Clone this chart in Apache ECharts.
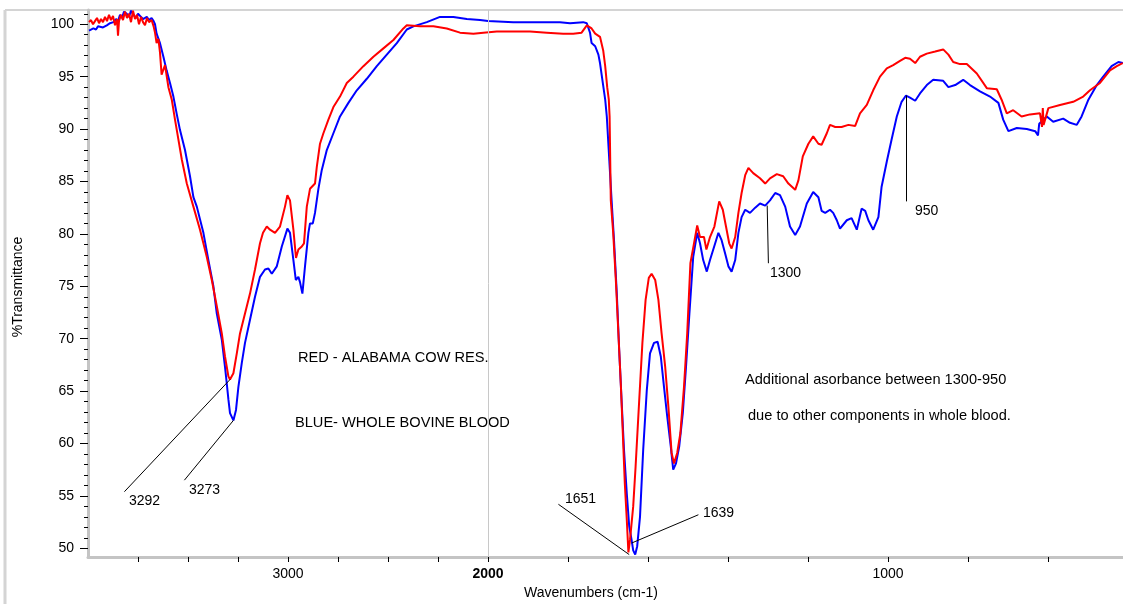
<!DOCTYPE html>
<html><head><meta charset="utf-8">
<script src="https://cdn.jsdelivr.net/npm/echarts@6/dist/echarts.min.js"></script>
<style>html,body{margin:0;padding:0;background:#fff}#c{width:1123px;height:604px}</style>
</head><body><div id="c"></div>
<script>
// ---- data (wavenumber cm-1, %Transmittance) ----
const blueWn = [3995,3985,3973,3960,3950,3940,3925,3906,3890,3873,3860,3850,3840,3830,3820,3806,3795,3785,3773,3760,3750,3740,3725,3706,3695,3682,3672,3665,3657,3640,3623,3607,3590,3573,3557,3540,3515,3490,3473,3456,3423,3398,3373,3356,3331,3315,3306,3298,3290,3273,3260,3248,3231,3215,3190,3165,3140,3115,3098,3081,3056,3031,3003,2990,2973,2961,2948,2940,2928,2915,2898,2890,2876,2865,2848,2831,2806,2773,2740,2698,2656,2606,2556,2506,2456,2406,2373,2306,2240,2173,2106,2040,2000,1937,1895,1853,1820,1795,1762,1753,1745,1741,1732,1724,1720,1713,1707,1703,1691,1685,1678,1672,1666,1660,1653,1647,1641,1637,1632,1627,1620,1612,1603,1595,1585,1576,1568,1560,1552,1543,1537,1530,1522,1513,1505,1497,1487,1477,1470,1462,1453,1445,1432,1424,1416,1407,1399,1391,1382,1374,1366,1357,1345,1332,1320,1307,1295,1282,1270,1257,1245,1232,1220,1203,1187,1174,1166,1157,1145,1137,1128,1120,1103,1091,1078,1066,1057,1049,1037,1024,1016,1003,991,978,966,955,945,932,920,903,887,862,849,832,812,795,770,745,724,712,699,678,653,632,625,622,620,603,587,562,545,528,516,499,478,462,441,424,413];
const blueT = [99.4,99.5,99.6,99.5,99.8,99.8,99.7,99.9,100.1,100.2,100.5,100.3,100.9,100.6,101.2,101.0,100.7,101.3,100.9,100.6,101.0,100.8,100.5,100.7,100.4,100.6,100.3,100.0,99.1,98.2,96.9,95.6,94.4,93.1,91.5,89.9,88.0,85.5,83.5,82.6,80.1,77.5,75.0,72.4,69.9,67.3,65.7,64.2,62.9,62.2,63.2,65.4,67.7,69.6,71.8,74.0,75.9,76.6,76.7,76.2,76.9,78.8,80.5,80.1,77.5,75.6,75.9,75.4,74.3,76.9,80.1,81.0,81.0,82.0,84.3,86.1,88.0,89.6,91.2,92.5,93.7,94.8,96.0,97.1,98.2,99.5,99.8,100.2,100.7,100.7,100.5,100.4,100.3,100.2,100.2,100.2,100.2,100.1,100.2,100.1,99.2,98.2,97.9,97.1,96.3,94.4,92.8,91.2,83.2,79.4,74.3,68.9,64.1,59.4,55.2,52.1,50.8,49.8,49.4,50.2,53.0,59.4,65.1,68.6,69.6,69.7,68.3,65.4,62.6,59.7,57.5,58.1,59.7,62.9,67.3,72.1,77.8,80.1,79.1,77.5,76.4,77.5,79.1,80.1,79.4,78.1,76.9,76.4,77.5,80.1,81.6,82.3,82.0,82.5,82.9,82.7,83.2,83.9,83.7,82.6,80.7,79.9,80.7,82.9,84.0,83.5,82.2,82.0,82.3,82.0,81.3,80.5,81.3,81.5,80.4,82.4,82.2,81.3,80.4,81.6,84.5,86.9,89.0,91.2,92.6,93.2,93.0,92.7,93.4,94.2,94.7,94.6,94.0,94.2,94.7,94.2,93.6,93.1,92.5,90.9,89.8,90.1,90.0,89.8,89.4,90.5,90.4,91.2,90.7,91.0,90.6,90.4,91.2,92.8,94.2,95.0,96.0,96.4,96.3];
const redWn = [3995,3985,3975,3965,3955,3945,3935,3925,3915,3905,3895,3885,3875,3865,3855,3850,3845,3835,3825,3815,3805,3795,3785,3775,3765,3755,3745,3735,3725,3715,3705,3695,3682,3672,3665,3657,3648,3640,3632,3615,3598,3581,3565,3556,3531,3506,3473,3440,3406,3381,3356,3331,3315,3298,3290,3273,3256,3240,3215,3190,3165,3140,3125,3106,3090,3065,3040,3015,3003,2990,2973,2960,2948,2931,2920,2906,2890,2881,2865,2856,2840,2823,2798,2773,2740,2706,2673,2623,2573,2523,2473,2423,2406,2340,2273,2206,2140,2073,2023,1978,1937,1895,1853,1812,1787,1766,1753,1741,1732,1720,1712,1707,1702,1698,1696,1693,1687,1680,1674,1668,1663,1658,1653,1649,1645,1637,1631,1622,1614,1606,1598,1591,1582,1574,1566,1557,1549,1541,1535,1527,1519,1510,1502,1494,1485,1477,1470,1460,1454,1445,1434,1422,1413,1405,1397,1391,1382,1374,1366,1357,1349,1337,1320,1307,1295,1278,1262,1249,1232,1224,1213,1199,1187,1174,1166,1153,1145,1132,1116,1099,1082,1070,1053,1037,1020,1003,987,970,957,945,932,920,903,882,862,849,837,820,803,778,753,728,716,703,687,666,645,620,615,613,611,599,570,537,512,495,470,445,428,413];
const redT = [100.2,100.4,100.0,100.3,100.6,100.1,100.5,100.2,100.7,100.3,100.9,100.4,100.8,99.9,100.5,98.9,100.3,100.9,100.4,101.2,100.6,101.0,100.2,101.3,100.5,100.9,100.0,100.7,100.2,99.9,100.6,100.2,100.4,99.8,99.2,98.2,98.6,97.3,95.2,96.1,94.0,92.8,90.9,89.9,87.1,84.8,82.6,80.4,77.8,75.6,73.1,70.5,68.3,66.4,66.1,66.7,68.6,70.5,72.4,74.3,76.6,79.1,80.1,80.7,80.4,80.1,80.7,82.6,83.7,83.2,80.4,77.7,78.5,78.8,79.1,82.6,84.3,84.3,84.8,86.4,88.6,89.6,90.9,92.1,93.1,94.4,95.0,96.0,96.9,97.7,98.5,99.6,99.9,99.8,99.8,99.6,99.2,99.1,99.2,99.3,99.3,99.3,99.2,99.1,99.1,99.2,99.9,99.6,99.1,98.8,97.5,96.0,94.0,92.8,91.2,83.2,80.1,75.3,70.5,65.7,61.0,56.2,52.7,49.6,50.8,54.0,57.8,64.1,69.6,73.7,75.8,76.2,75.6,73.7,70.5,67.3,63.5,59.1,58.1,59.1,61.0,65.4,70.5,77.2,79.1,80.8,79.7,79.7,78.5,79.7,80.7,83.1,82.3,80.7,79.1,78.6,79.7,82.0,83.9,85.6,86.3,85.8,85.3,84.8,85.3,85.7,85.5,84.8,84.2,85.1,87.4,88.6,89.3,88.6,88.5,89.6,90.4,90.2,90.2,90.4,90.3,91.5,92.3,93.7,95.0,95.8,96.1,96.5,96.8,96.7,96.3,96.9,97.2,97.4,97.6,97.1,96.4,96.2,96.2,95.3,93.9,93.8,92.8,91.5,91.8,91.2,91.4,91.5,90.2,92.0,90.4,92.0,92.3,92.6,93.1,93.7,94.4,95.6,96.0,96.3];

// ---- axes ----
const xTickWn = [3750,3500,3250,3000,2750,2500,2250,2000,1800,1600,1400,1200,1000,800,600];
const xLabelWn = [3000,2000,1000];
const yMajor = [50,55,60,65,70,75,80,85,90,95,100];
const yMinor = [50,51,52,53,54,55,56,57,58,59,60,61,62,63,64,65,66,67,68,69,70,71,72,73,74,75,76,77,78,79,80,81,82,83,84,85,86,87,88,89,90,91,92,93,94,95,96,97,98,99,100,101];

// ---- annotations: leader lines [wn1,T1,wn2,T2] and peak labels ----
const leaderLines = [
  [3818,55.4,3290,66.1],
  [3518,56.5,3273,62.2],
  [1824,54.2,1647,49.4],
  [1641,50.5,1474,53.2],
  [1302,82.7,1299,77.2],
  [955,93.2,955,83.1]
];
const peakLabels = [
  {t:'3292', x:129, y:501},
  {t:'3273', x:189, y:490},
  {t:'1651', x:565, y:499},
  {t:'1639', x:703, y:513},
  {t:'1300', x:770, y:273},
  {t:'950',  x:915, y:211}
];
const notes = [
  {t:'RED - ALABAMA COW RES.', x:298, y:358},
  {t:'BLUE- WHOLE BOVINE BLOOD', x:295, y:423},
  {t:'Additional asorbance between 1300-950', x:745, y:380},
  {t:'due to other components in whole blood.', x:748, y:416}
];

// split scale: 4000-2000 at 1x, below 2000 at 2x
function toPos(wn){ return wn >= 2000 ? 4000 - wn : 2000 + 2*(2000 - wn); }
function toWn(p){ return p <= 2000 ? 4000 - p : 2000 - (p - 2000)/2; }

const FONT = '"Liberation Sans", Arial, sans-serif';
const chart = echarts.init(document.getElementById('c'), null, {renderer:'canvas'});

const txt = (o, size) => ({
  type:'text', style:{text:o.t, x:o.x, y:o.y, fill:'#000', font:size + 'px ' + FONT, textVerticalAlign:'middle', textAlign:'left'}
});

const graphics = [
  {type:'line', shape:{x1:5, y1:10, x2:1123, y2:10}, style:{stroke:'#d4d4d4', lineWidth:2}},
  {type:'line', shape:{x1:5, y1:10, x2:5, y2:604}, style:{stroke:'#d4d4d4', lineWidth:3}},
  {type:'text', x:18, y:287, rotation:Math.PI/2, style:{text:'%Transmittance', x:0, y:0, fill:'#000', font:'14px ' + FONT, textAlign:'center', textVerticalAlign:'middle'}},
  {type:'text', style:{text:'Wavenumbers (cm-1)', x:591, y:593, fill:'#000', font:'14px ' + FONT, textAlign:'center', textVerticalAlign:'middle'}}
];
peakLabels.forEach(p => graphics.push(txt(p, 14)));
notes.forEach(n => graphics.push(txt(n, 14.6)));

chart.setOption({
  animation:false,
  backgroundColor:'#fff',
  grid:{left:88, right:0, top:10, bottom:47, containLabel:false},
  xAxis:{
    type:'value', min:0, max:5175,
    axisLine:{show:true, onZero:false, lineStyle:{color:'#c4c4c4', width:3}},
    axisTick:{show:true, inside:false, length:5, lineStyle:{color:'#000', width:1}, customValues: xTickWn.map(toPos)},
    axisLabel:{show:true, margin:10, color:'#000', fontFamily:FONT, fontSize:14,
      customValues: xLabelWn.map(toPos),
      formatter: v => { const w = Math.round(toWn(v)); return w === 2000 ? '{b|2000}' : String(w); },
      rich:{b:{fontWeight:'bold', fontFamily:FONT, fontSize:14, color:'#000'}}},
    splitLine:{show:false}
  },
  yAxis:[{
    type:'value', min:49.17, max:101.36, position:'left',
    axisLine:{show:true, onZero:false, lineStyle:{color:'#c4c4c4', width:3}},
    axisTick:{show:true, length:8, lineStyle:{color:'#000', width:1}, customValues:yMajor},
    axisLabel:{show:true, margin:14, color:'#000', fontFamily:FONT, fontSize:14, customValues:yMajor},
    splitLine:{show:false}
  },{
    type:'value', min:49.17, max:101.36, position:'left', offset:0,
    axisLine:{show:false},
    axisTick:{show:true, length:4, lineStyle:{color:'#000', width:1}, customValues:yMinor},
    axisLabel:{show:false},
    splitLine:{show:false}
  }],
  series:[
    {name:'BLUE', type:'line', yAxisIndex:0, showSymbol:false, symbol:'none', silent:true,
      lineStyle:{color:'#0000ff', width:2}, itemStyle:{color:'#0000ff'},
      data: blueWn.map((w,i) => [toPos(w), blueT[i]]),
      markLine:{silent:true, symbol:['none','none'], label:{show:false},
        lineStyle:{color:'#c8c8c8', width:1, type:'solid'},
        data:[{xAxis: toPos(2000)}]}
    },
    {name:'RED', type:'line', yAxisIndex:0, showSymbol:false, symbol:'none', silent:true,
      lineStyle:{color:'#ff0000', width:2}, itemStyle:{color:'#ff0000'},
      data: redWn.map((w,i) => [toPos(w), redT[i]]),
      markLine:{silent:true, symbol:['none','none'], label:{show:false},
        lineStyle:{color:'#000', width:1, type:'solid'},
        data: leaderLines.map(l => [{coord:[toPos(l[0]), l[1]]},{coord:[toPos(l[2]), l[3]]}])}
    }
  ],
  graphic: graphics
});
</script>
</body></html>
